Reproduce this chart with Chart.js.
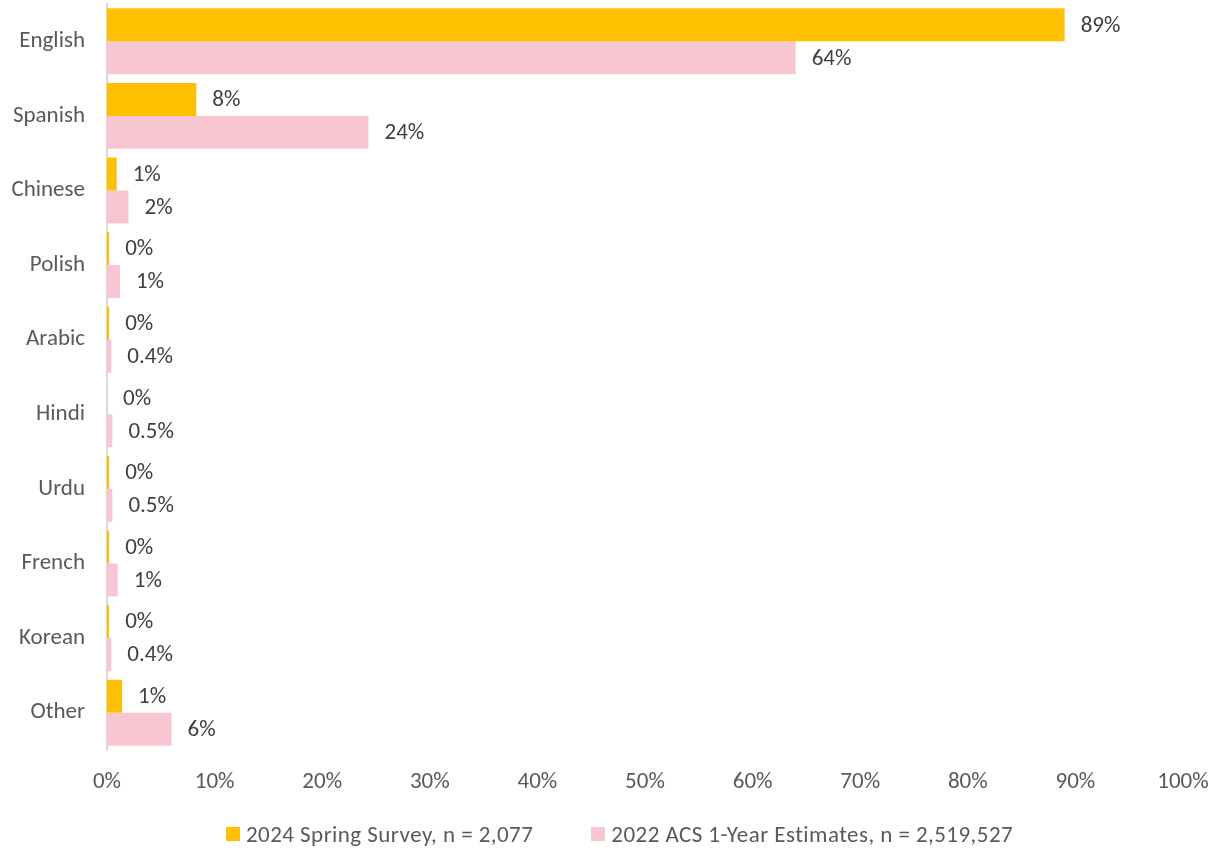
<!DOCTYPE html>
<html>
<head>
<meta charset="utf-8">
<title>Language spoken at home</title>
<script src="https://cdn.jsdelivr.net/npm/chart.js@4"></script>
<style>
  html, body { margin: 0; padding: 0; background: #fff; }
  #wrap { width: 1214px; height: 850px; position: relative; }
  #legend {
    position: absolute; left: 226px; top: 820px; height: 28px;
    display: flex; align-items: center;
    font: 23px Carlito, 'Open Sans', sans-serif; color: #595959;
    letter-spacing: 0.45px;
    white-space: nowrap;
  }
  #legend .item { display: flex; align-items: center; margin-right: 58px; }
  #legend .box { width: 14px; height: 14px; margin-right: 6px; }
</style>
</head>
<body>
<div id="wrap">
  <canvas id="langChart"></canvas>
  <div id="legend"></div>
</div>
<script>
// categorias e séries
const languages = ['English', 'Spanish', 'Chinese', 'Polish', 'Arabic', 'Hindi', 'Urdu', 'French', 'Korean', 'Other'];
const surveyValues = [89, 8.3, 0.9, 0.2, 0.2, 0, 0.2, 0.2, 0.2, 1.4];
const acsValues = [64, 24.3, 2, 1.2, 0.4, 0.5, 0.5, 1, 0.4, 6];
const xTicks = [0, 10, 20, 30, 40, 50, 60, 70, 80, 90, 100];

const FONT = "Carlito, 'Open Sans', sans-serif";

// formato dos rótulos: pesquisa arredondada, ACS com uma casa abaixo de 1%
const fmtSurvey = v => Math.round(v) + '%';
const fmtAcs = v => (v > 0 && v < 1 ? v.toFixed(1) : Math.round(v)) + '%';

// desenha o valor ao lado de cada barra
const barLabels = {
  id: 'barLabels',
  afterDatasetsDraw(chart) {
    const ctx = chart.ctx;
    ctx.save();
    ctx.font = '23px ' + FONT;
    ctx.fillStyle = '#404040';
    ctx.textAlign = 'left';
    ctx.textBaseline = 'middle';
    chart.data.datasets.forEach((ds, i) => {
      const meta = chart.getDatasetMeta(i);
      meta.data.forEach((bar, j) => {
        ctx.fillText(ds.fmt(ds.data[j]), bar.x + 16, bar.y + 1);
      });
    });
    ctx.restore();
  }
};

const ctx = document.getElementById('langChart').getContext('2d');
const chart = new Chart(ctx, {
  type: 'bar',
  data: {
    labels: languages,
    datasets: [
      {
        label: '2024 Spring Survey, n = 2,077',
        data: surveyValues,
        backgroundColor: '#FFC000',
        fmt: fmtSurvey
      },
      {
        label: '2022 ACS 1-Year Estimates, n = 2,519,527',
        data: acsValues,
        backgroundColor: '#F8C6D0',
        fmt: fmtAcs
      }
    ]
  },
  options: {
    indexAxis: 'y',
    responsive: true,
    maintainAspectRatio: false,
    animation: false,
    layout: { padding: { top: 4, right: 0, bottom: 56, left: 10 } },
    datasets: {
      bar: { categoryPercentage: 0.884, barPercentage: 1, borderWidth: 0 }
    },
    scales: {
      x: {
        min: 0,
        max: 100,
        afterBuildTicks: axis => { axis.ticks = xTicks.map(v => ({ value: v })); },
        // só metade do rótulo "100%" precisa caber à direita
        afterFit: axis => { axis.paddingLeft = 0; axis.paddingRight = 31; axis.height = 44; },
        grid: { display: false, drawTicks: false },
        border: { display: false },
        ticks: {
          color: '#595959',
          font: { family: FONT, size: 23 },
          padding: 18,
          callback: v => v + '%'
        }
      },
      y: {
        afterFit: axis => { axis.paddingTop = 0; axis.paddingBottom = 0; axis.width = 97; },
        grid: { display: false, drawTicks: false },
        border: { display: true, color: '#D9D9D9', width: 2 },
        ticks: {
          color: '#595959',
          font: { family: FONT, size: 23 },
          padding: 22
        }
      }
    },
    plugins: {
      legend: { display: false },
      tooltip: { enabled: false }
    }
  },
  plugins: [barLabels]
});

// legenda em HTML a partir dos datasets
const legendEl = document.getElementById('legend');
chart.data.datasets.forEach(ds => {
  const item = document.createElement('div');
  item.className = 'item';
  const box = document.createElement('span');
  box.className = 'box';
  box.style.background = ds.backgroundColor;
  const txt = document.createElement('span');
  txt.textContent = ds.label;
  item.appendChild(box);
  item.appendChild(txt);
  legendEl.appendChild(item);
});
</script>
</body>
</html>
